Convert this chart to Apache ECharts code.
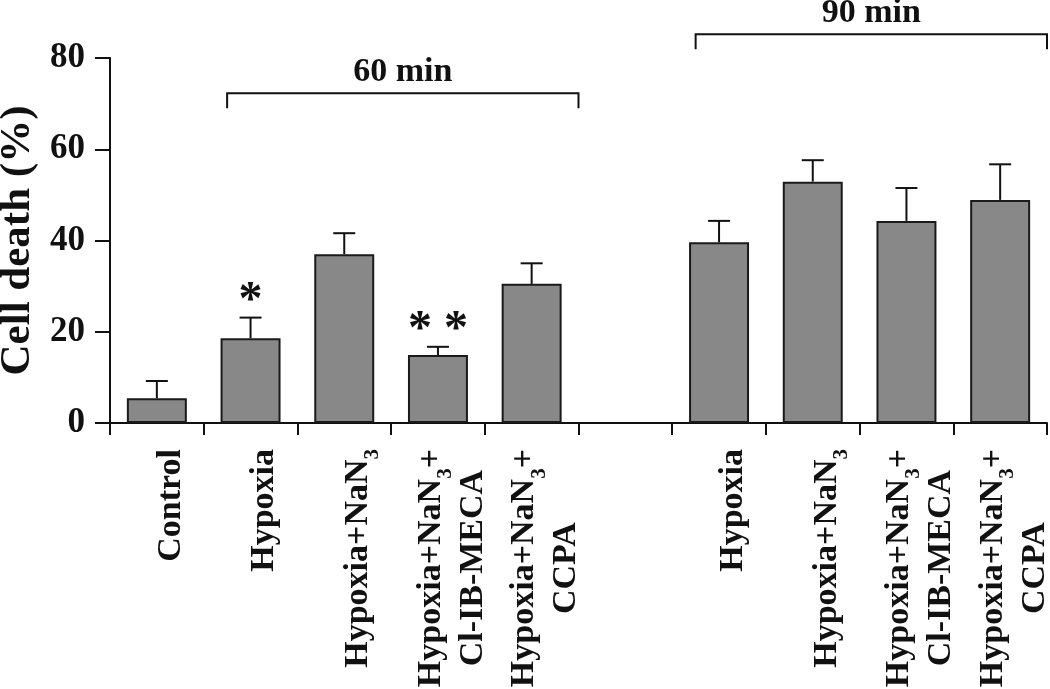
<!DOCTYPE html>
<html>
<head>
<meta charset="utf-8">
<script src="https://cdn.jsdelivr.net/npm/echarts@6/dist/echarts.min.js"></script>
<style>
  html, body { margin: 0; padding: 0; background: #fff; }
  #chart { width: 1050px; height: 689px; }
</style>
</head>
<body>
<div id="chart"></div>
<script>
  // data
  const categories = [
    'Control', 'Hypoxia', 'Hypoxia+NaN3', 'Hypoxia+NaN3+\nCl-IB-MECA', 'Hypoxia+NaN3+\nCCPA',
    '',
    'Hypoxia', 'Hypoxia+NaN3', 'Hypoxia+NaN3+\nCl-IB-MECA', 'Hypoxia+NaN3+\nCCPA'
  ];
  const meanValues = [5.4, 18.6, 37.0, 14.9, 30.5, null, 39.6, 52.9, 44.3, 48.9];
  const upperError = [9.2, 23.1, 41.6, 16.7, 35.0, null, 44.3, 57.6, 51.5, 56.7];
  const significance = ['', '*', '', '* *', '', '', '', '', '', ''];
  const yTicks = [0, 20, 40, 60, 80];
  const groups = [
    {name: '60 min', from: 1, to: 4},
    {name: '90 min', from: 6, to: 9}
  ];

  const font = 'Liberation Serif';
  const ink = '#111';
  // bracket heights in axis units
  const bracketLevel = [72.3, 85.2];

  let myChart = echarts.init(document.getElementById('chart'));

  let errData = [], bracketData = [];
  meanValues.map((v, i) => {
    if (v != null) errData.push([i, v, upperError[i], significance[i]]);
  });
  groups.map((g, i) => bracketData.push([g.from, g.to, bracketLevel[i], g.name]));

  function fmtLabel(name) {
    return name.split('\n').map(line => {
      let parts = line.split('NaN3');
      return parts.map(p => p ? '{n|' + p + '}' : '').join('{n|NaN}{s|3}');
    }).join('\n');
  }

  myChart.setOption({
    animation: false,
    grid: {left: 110, right: 3, top: 58, bottom: 266, outerBoundsMode: 'none'},
    xAxis: {
      type: 'category',
      data: categories,
      axisLine: {lineStyle: {color: ink, width: 2}},
      axisTick: {show: true, interval: 0, length: 12, lineStyle: {color: ink, width: 2}},
      axisLabel: {
        interval: 0,
        rotate: 90,
        margin: 26,
        padding: [36, 0, 0, 0],
        formatter: fmtLabel,
        rich: {
          n: {fontFamily: font, fontWeight: 'bold', fontSize: 34, color: ink, lineHeight: 42, verticalAlign: 'top', align: 'center'},
          s: {fontFamily: font, fontWeight: 'bold', fontSize: 21, color: ink, lineHeight: 16, verticalAlign: 'bottom', align: 'center'}
        }
      }
    },
    yAxis: {
      type: 'value',
      min: yTicks[0],
      max: yTicks[yTicks.length - 1],
      interval: 20,
      name: 'Cell death (%)',
      nameLocation: 'middle',
      nameGap: 70,
      nameTextStyle: {fontFamily: font, fontWeight: 'bold', fontSize: 43, color: ink},
      axisLine: {show: true, lineStyle: {color: ink, width: 2}},
      axisTick: {show: true, length: 15, lineStyle: {color: ink, width: 2}},
      splitLine: {show: false},
      axisLabel: {fontFamily: font, fontWeight: 'bold', fontSize: 35, color: ink, margin: 25}
    },
    series: [{
      type: 'bar',
      data: meanValues,
      barWidth: '64%',
      itemStyle: {color: '#888888', borderColor: '#1a1a1a', borderWidth: 2},
      z: 2
    }, {
      type: 'custom',
      data: errData,
      z: 3,
      renderItem(params, api) {
        let top = api.coord([api.value(0), api.value(1)]);
        let cap = api.coord([api.value(0), api.value(2)]);
        let star = errData[params.dataIndex][3];
        let st = {stroke: ink, lineWidth: 2};
        let children = [
          {type: 'line', shape: {x1: top[0], y1: top[1], x2: cap[0], y2: cap[1]}, style: st},
          {type: 'line', shape: {x1: cap[0] - 11, y1: cap[1], x2: cap[0] + 11, y2: cap[1]}, style: st}
        ];
        if (star) {
          children.push({
            type: 'text',
            style: {text: star, x: cap[0], y: cap[1] + 4, align: 'center', verticalAlign: 'bottom',
              font: 'bold 48px "' + font + '"', fill: ink, lineHeight: 40}
          });
        }
        return {type: 'group', children};
      }
    }, {
      type: 'custom',
      data: bracketData,
      clip: false,
      z: 3,
      renderItem(params, api) {
        let band = api.size([1, 0])[0];
        let a = api.coord([api.value(0), api.value(2)]);
        let b = api.coord([api.value(1), api.value(2)]);
        let x1 = a[0] - band * 0.25, x2 = b[0] + band / 2, y = a[1];
        let st = {stroke: ink, lineWidth: 2, fill: null};
        return {
          type: 'group',
          children: [
            {type: 'polyline', shape: {points: [[x1, y + 15], [x1, y], [x2, y], [x2, y + 15]]}, style: st},
            {type: 'text', style: {text: bracketData[params.dataIndex][3], x: (x1 + x2) / 2, y: y - 4,
              align: 'center', verticalAlign: 'bottom', font: 'bold 34px "' + font + '"', fill: ink}}
          ]
        };
      }
    }]
  });
</script>
</body>
</html>
